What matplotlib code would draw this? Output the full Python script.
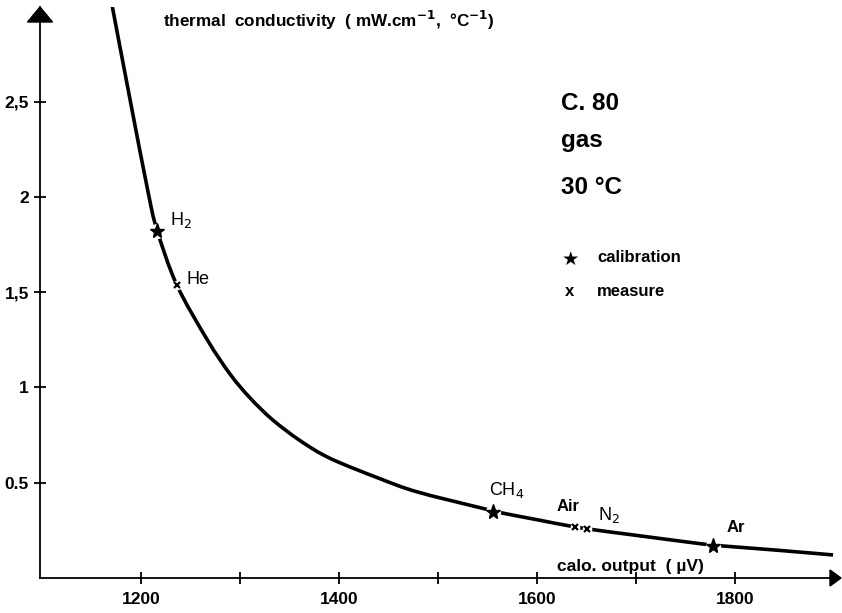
import matplotlib
matplotlib.use("Agg")
import matplotlib.pyplot as plt
from matplotlib.patches import Polygon, PathPatch
from matplotlib.path import Path

plt.rcParams['font.family'] = ['Liberation Sans', 'DejaVu Sans']

# ---- data ----
curve_x = [1171, 1189, 1207, 1216, 1236, 1267, 1290, 1310, 1333, 1361, 1391,
           1441, 1479, 1544, 1565, 1600, 1633, 1659, 1700, 1768, 1788, 1840, 1899]
curve_y = [3.0, 2.51, 2.03, 1.83, 1.54, 1.25, 1.07, 0.946, 0.83, 0.72, 0.628,
           0.522, 0.452, 0.367, 0.341, 0.306, 0.273, 0.252, 0.224, 0.178, 0.168, 0.147, 0.121]

calib_names = ["H$_2$", "CH$_4$", "Ar"]
calib_x = [1216, 1556, 1778]
calib_y = [1.82, 0.345, 0.17]

meas_names = ["He", "Air", "N$_2$"]
meas_x = [1236, 1638, 1650]
meas_y = [1.54, 0.267, 0.258]

x_ticks = [1200, 1300, 1400, 1500, 1600, 1700, 1800]
x_tick_labels = ["1200", "", "1400", "", "1600", "", "1800"]
y_ticks = [0.5, 1, 1.5, 2, 2.5]
y_tick_labels = ["0.5", "1", "1,5", "2", "2,5"]

W, H = 842, 613
fig = plt.figure(figsize=(W / 100, H / 100), dpi=100)
L, R, T, B = 40, 838, 7, 578
ax = fig.add_axes([L / W, (H - B) / H, (R - L) / W, (B - T) / H])
ax.set_xlim(1098, 1904)
ax.set_ylim(0, 2.997)

for s in ['top', 'right']:
    ax.spines[s].set_visible(False)
for s in ['left', 'bottom']:
    ax.spines[s].set_linewidth(1.3)
    ax.spines[s].set_color('black')

ax.set_xticks(x_ticks)
ax.set_xticklabels(x_tick_labels)
ax.set_yticks(y_ticks)
ax.set_yticklabels(y_tick_labels)
ax.tick_params(axis='both', direction='inout', length=8, width=1.3, labelsize=12.5)
ax.tick_params(axis='x', pad=6)
ax.tick_params(axis='y', pad=4)
for lab in ax.get_xticklabels() + ax.get_yticklabels():
    lab.set_fontweight('bold')

# smooth curve drawn through the read points (Catmull-Rom as cubic Bezier segments)
verts = [(curve_x[0], curve_y[0])]
codes = [Path.MOVETO]
n = len(curve_x)
for i in range(n - 1):
    p0 = (curve_x[max(i - 1, 0)], curve_y[max(i - 1, 0)])
    p1 = (curve_x[i], curve_y[i])
    p2 = (curve_x[i + 1], curve_y[i + 1])
    p3 = (curve_x[min(i + 2, n - 1)], curve_y[min(i + 2, n - 1)])
    c1 = (p1[0] + (p2[0] - p0[0]) / 6, p1[1] + (p2[1] - p0[1]) / 6)
    c2 = (p2[0] - (p3[0] - p1[0]) / 6, p2[1] - (p3[1] - p1[1]) / 6)
    verts += [c1, c2, p2]
    codes += [Path.CURVE4] * 3
ax.add_patch(PathPatch(Path(verts, codes), facecolor='none', edgecolor='black',
                       lw=2.6, capstyle='butt', zorder=2))

# gaps + markers
ax.plot(calib_x, calib_y, 'o', ms=11, color='white', mec='none', zorder=3)
ax.plot(calib_x, calib_y, '*', ms=11, color='black', mec='black', zorder=4)
ax.plot(meas_x, meas_y, 'o', ms=7, color='white', mec='none', zorder=3)
ax.plot(meas_x, meas_y, 'x', ms=5, color='black', mew=1.6, zorder=4)

# point labels (offsets in pixels)
calib_off = [(13, 11), (-4, 22), (13, 18)]
meas_off = [(10, 5), (-18, 21), (11, 14)]
calib_w = ['normal', 'normal', 'bold']
meas_w = ['normal', 'bold', 'normal']
for name, x, y, off, w in zip(calib_names, calib_x, calib_y, calib_off, calib_w):
    ax.annotate(name, (x, y), xytext=off, textcoords='offset pixels',
                fontsize=13 if w == 'normal' else 12, fontweight=w, ha='left', va='center')
for name, x, y, off, w in zip(meas_names, meas_x, meas_y, meas_off, meas_w):
    ax.annotate(name, (x, y), xytext=off, textcoords='offset pixels',
                fontsize=12 if w == 'bold' else 13, fontweight=w, ha='left', va='center')

# arrows at the ends of the axes
aw, ah = R - L, B - T
ax.add_patch(Polygon([(0, 1.0), (-12.5 / aw, 1 - 15 / ah), (12.5 / aw, 1 - 15 / ah)],
                     closed=True, transform=ax.transAxes, color='black', clip_on=False))
ax.add_patch(Polygon([(1.0 + 3 / aw, 0), (1 - 8 / aw, 8 / ah), (1 - 8 / aw, -8 / ah)],
                     closed=True, transform=ax.transAxes, color='black', clip_on=False))

def fx(px):
    return px / W

def fy(py):
    return 1 - py / H

fig.text(fx(163), fy(20), "thermal  conductivity  ( mW.cm$^{\\mathbf{-1}}$,  °C$^{\\mathbf{-1}}$)",
         fontsize=12.3, fontweight='bold', ha='left', va='center')
fig.text(fx(557), fy(567), "calo. output  ( µV)", fontsize=12.5, fontweight='bold',
         ha='left', va='center')

fig.text(fx(561), fy(103), "C. 80", fontsize=17.5, fontweight='bold', ha='left', va='center')
fig.text(fx(561), fy(140), "gas", fontsize=17.5, fontweight='bold', ha='left', va='center')
fig.text(fx(561), fy(188), "30 °C", fontsize=17.5, fontweight='bold', ha='left', va='center')

# legend
fig.text(fx(570), fy(259), "★", fontsize=14, ha='center', va='center',
         family=['DejaVu Sans'])
fig.text(fx(597), fy(258), "calibration", fontsize=12, fontweight='bold', ha='left', va='center')
fig.text(fx(570), fy(292), "x", fontsize=12, fontweight='bold', ha='center', va='center')
fig.text(fx(597), fy(292), "measure", fontsize=12, fontweight='bold', ha='left', va='center')

fig.savefig("out.png", dpi=100)
